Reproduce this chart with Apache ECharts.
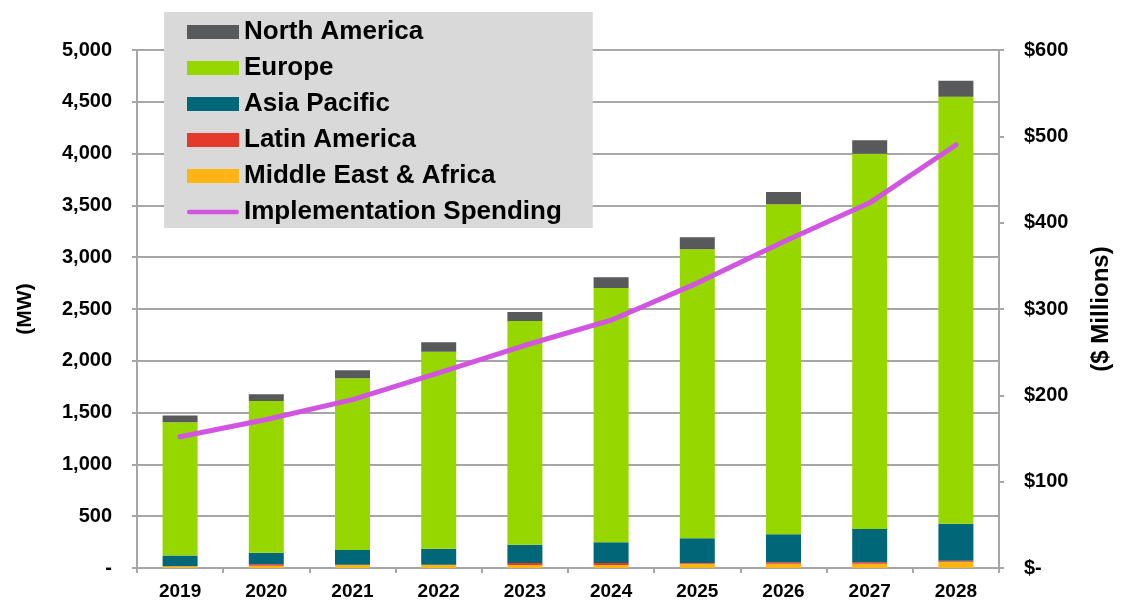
<!DOCTYPE html>
<html>
<head>
<meta charset="utf-8">
<script src="https://cdn.jsdelivr.net/npm/echarts@6/dist/echarts.min.js"></script>
<style>
html,body{margin:0;padding:0;background:#fff;}
#chart{width:1121px;height:603px;}
</style>
</head>
<body>
<div id="chart"></div>
<script>
const years = ['2019','2020','2021','2022','2023','2024','2025','2026','2027','2028'];
const middleEastAfrica = [16, 22, 29, 29, 29, 29, 42, 42, 42, 61];
const latinAmerica = [1, 13, 2, 2, 19, 19, 6, 13, 13, 10];
const asiaPacific = [103, 113, 143, 155, 177, 200, 239, 270, 321, 357];
const europe = [1287, 1464, 1657, 1902, 2159, 2455, 2789, 3186, 3623, 4121];
const northAmerica = [64, 64, 77, 90, 87, 103, 116, 118, 129, 155];
const spending = [152, 172, 195, 226, 258, 287, 330, 378, 423, 490];

const FONT = '"Liberation Sans", Arial, sans-serif';
const GRAY = '#A6A6A6';
const chart = echarts.init(document.getElementById('chart'));

function bar(name, data, color) {
  return {
    name: name, type: 'bar', stack: 'mw', data: data, barWidth: 35,
    itemStyle: { color: color },
    emphasis: { disabled: true }
  };
}

chart.setOption({
  animation: false,
  textStyle: { fontFamily: FONT },
  grid: { left: 137, right: 118, top: 50, bottom: 35, containLabel: false },
  legend: {
    orient: 'vertical',
    left: 164, top: 12,
    backgroundColor: '#D9D9D9',
    padding: [7, 31, 3, 23],
    itemWidth: 52, itemHeight: 14, itemGap: 10,
    textStyle: { fontFamily: FONT, fontSize: 26, fontWeight: 'bold', color: '#000', lineHeight: 26 },
    data: [
      { name: 'North America', icon: 'rect' },
      { name: 'Europe', icon: 'rect' },
      { name: 'Asia Pacific', icon: 'rect' },
      { name: 'Latin America', icon: 'rect' },
      { name: 'Middle East & Africa', icon: 'rect' },
      { name: 'Implementation Spending', icon: 'path://M2.5,0 L53.5,0 A2.5,2.5 0 0 1 53.5,5 L2.5,5 A2.5,2.5 0 0 1 2.5,0 Z' }
    ]
  },
  xAxis: {
    type: 'category', data: years, boundaryGap: true,
    axisLine: { lineStyle: { color: GRAY, width: 2 } },
    axisTick: { show: true, alignWithLabel: false, length: 5, lineStyle: { color: GRAY, width: 2 } },
    axisLabel: { color: '#000', fontSize: 19, fontWeight: 'bold', fontFamily: FONT, margin: 14 }
  },
  yAxis: [
    {
      type: 'value', min: 0, max: 5000, interval: 500,
      name: '(MW)', nameLocation: 'middle', nameRotate: 90, nameGap: 101,
      nameTextStyle: { fontSize: 21, fontWeight: 'bold', color: '#000', fontFamily: FONT },
      axisLine: { show: true, lineStyle: { color: GRAY, width: 2 } },
      axisTick: { show: true, length: 5, lineStyle: { color: GRAY, width: 2 } },
      splitLine: { show: true, lineStyle: { color: GRAY, width: 2 } },
      axisLabel: {
        color: '#000', fontSize: 20, fontWeight: 'bold', fontFamily: FONT, margin: 25,
        formatter: v => v === 0 ? '-' : v.toLocaleString('en-US')
      }
    },
    {
      type: 'value', min: 0, max: 600, interval: 100, position: 'right',
      name: '($ Millions)', nameLocation: 'middle', nameRotate: 90, nameGap: 90,
      nameTextStyle: { fontSize: 24, fontWeight: 'bold', color: '#000', fontFamily: FONT },
      axisLine: { show: true, lineStyle: { color: GRAY, width: 2 } },
      axisTick: { show: true, length: 5, lineStyle: { color: GRAY, width: 2 } },
      splitLine: { show: false },
      axisLabel: {
        color: '#000', fontSize: 20, fontWeight: 'bold', fontFamily: FONT, margin: 25,
        formatter: v => v === 0 ? '$-' : '$' + v
      }
    }
  ],
  series: [
    bar('Middle East & Africa', middleEastAfrica, '#FDB515'),
    bar('Latin America', latinAmerica, '#E5392B'),
    bar('Asia Pacific', asiaPacific, '#006778'),
    bar('Europe', europe, '#97D700'),
    bar('North America', northAmerica, '#58595B'),
    {
      name: 'Implementation Spending', type: 'line', yAxisIndex: 1, data: spending,
      symbol: 'none', z: 5,
      lineStyle: { color: '#D155E0', width: 5, cap: 'round', join: 'round' },
      itemStyle: { color: '#D155E0' },
      emphasis: { disabled: true }
    }
  ]
});
</script>
</body>
</html>
